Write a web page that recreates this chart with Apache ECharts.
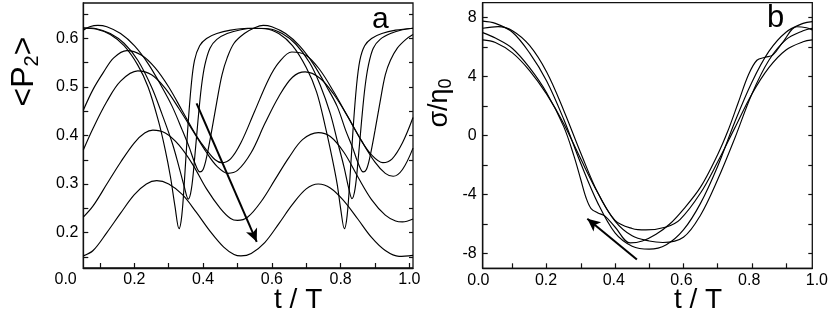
<!DOCTYPE html>
<html><head><meta charset="utf-8">
<script src="https://cdn.jsdelivr.net/npm/echarts@6/dist/echarts.min.js"></script>
<style>html,body{margin:0;padding:0;background:#fff}#c{width:831px;height:320px}</style>
</head><body><div id="c"></div>
<script>
// ---------- Panel a data: <P2> vs t/T ----------
const aCurveA = [[0.0515,0.152],[0.08,0.163],[0.12,0.200],[0.16,0.240],[0.20,0.278],[0.235,0.300],[0.265,0.307],[0.30,0.300],[0.34,0.278],[0.38,0.242],[0.42,0.203],[0.46,0.170],[0.49,0.155],[0.51,0.152],[0.54,0.157],[0.58,0.180],[0.62,0.218],[0.66,0.258],[0.70,0.290],[0.735,0.300],[0.77,0.292],[0.81,0.265],[0.85,0.228],[0.89,0.190],[0.93,0.163],[0.97,0.151],[1.0106,0.153]];
const aCurveB = [[0.0515,0.232],[0.08,0.255],[0.12,0.300],[0.16,0.345],[0.20,0.385],[0.23,0.405],[0.254,0.411],[0.29,0.405],[0.33,0.380],[0.37,0.340],[0.41,0.290],[0.45,0.250],[0.48,0.229],[0.50,0.225],[0.53,0.232],[0.57,0.265],[0.61,0.310],[0.65,0.355],[0.69,0.392],[0.735,0.406],[0.77,0.398],[0.81,0.365],[0.85,0.315],[0.89,0.268],[0.93,0.236],[0.96,0.224],[0.98,0.222],[1.0106,0.228]];
const aCurveC = [[0.0515,0.370],[0.08,0.415],[0.12,0.470],[0.16,0.512],[0.21,0.533],[0.25,0.525],[0.29,0.497],[0.33,0.455],[0.37,0.410],[0.41,0.365],[0.44,0.337],[0.472,0.322],[0.50,0.328],[0.54,0.365],[0.58,0.425],[0.62,0.480],[0.66,0.520],[0.697,0.531],[0.74,0.518],[0.78,0.485],[0.82,0.440],[0.86,0.390],[0.90,0.345],[0.93,0.322],[0.953,0.316],[0.98,0.330],[1.0106,0.374]];
const aCurveD = [[0.0515,0.452],[0.08,0.495],[0.11,0.530],[0.14,0.560],[0.178,0.575],[0.22,0.566],[0.26,0.540],[0.30,0.500],[0.34,0.450],[0.38,0.400],[0.41,0.370],[0.435,0.350],[0.454,0.344],[0.48,0.352],[0.51,0.385],[0.55,0.450],[0.59,0.515],[0.62,0.550],[0.658,0.572],[0.70,0.565],[0.74,0.535],[0.78,0.490],[0.82,0.440],[0.86,0.390],[0.89,0.360],[0.923,0.344],[0.95,0.352],[0.98,0.385],[1.0106,0.437]];
const aCurveE = [[0.0515,0.621],[0.09,0.619],[0.13,0.608],[0.17,0.585],[0.21,0.545],[0.24,0.500],[0.27,0.430],[0.29,0.370],[0.305,0.315],[0.318,0.255],[0.33,0.208],[0.338,0.235],[0.346,0.310],[0.355,0.410],[0.365,0.500],[0.375,0.555],[0.39,0.585],[0.41,0.600],[0.44,0.610],[0.48,0.617],[0.53,0.621],[0.58,0.620],[0.62,0.610],[0.66,0.585],[0.70,0.540],[0.73,0.490],[0.755,0.420],[0.775,0.355],[0.79,0.300],[0.80,0.250],[0.811,0.208],[0.819,0.235],[0.827,0.310],[0.836,0.410],[0.846,0.500],[0.856,0.555],[0.87,0.585],[0.89,0.600],[0.92,0.610],[0.96,0.617],[1.0106,0.621]];
const aCurveF = [[0.0515,0.622],[0.09,0.620],[0.13,0.610],[0.17,0.590],[0.21,0.555],[0.25,0.500],[0.28,0.445],[0.31,0.385],[0.33,0.335],[0.345,0.295],[0.357,0.269],[0.366,0.290],[0.375,0.350],[0.385,0.430],[0.395,0.500],[0.405,0.545],[0.42,0.580],[0.44,0.598],[0.47,0.610],[0.51,0.618],[0.55,0.621],[0.59,0.620],[0.63,0.610],[0.67,0.588],[0.71,0.550],[0.74,0.505],[0.77,0.445],[0.79,0.390],[0.81,0.335],[0.823,0.293],[0.833,0.270],[0.842,0.290],[0.851,0.350],[0.861,0.430],[0.871,0.500],[0.881,0.545],[0.895,0.580],[0.915,0.598],[0.945,0.610],[0.98,0.618],[1.0106,0.621]];
const aCurveG = [[0.0515,0.617],[0.07,0.624],[0.094,0.627],[0.12,0.624],[0.16,0.610],[0.20,0.585],[0.24,0.548],[0.28,0.500],[0.31,0.460],[0.34,0.410],[0.36,0.375],[0.375,0.345],[0.391,0.325],[0.40,0.330],[0.41,0.355],[0.425,0.410],[0.44,0.470],[0.455,0.525],[0.47,0.560],[0.49,0.590],[0.52,0.610],[0.55,0.622],[0.575,0.627],[0.60,0.624],[0.64,0.610],[0.68,0.585],[0.72,0.548],[0.76,0.500],[0.79,0.460],[0.815,0.410],[0.835,0.375],[0.85,0.345],[0.866,0.325],[0.875,0.330],[0.885,0.355],[0.90,0.410],[0.915,0.470],[0.93,0.525],[0.945,0.555],[0.965,0.580],[0.99,0.598],[1.0106,0.608]];
const aArrow = [[0.381,0.466],[0.556,0.181]];
const aXLabels = [0, 0.2, 0.4, 0.6, 0.8, 1.0];
const aXTicks = [0.1, 0.2, 0.3, 0.4, 0.5, 0.6, 0.7, 0.8, 0.9, 1.0];
const aYLabels = [0.2, 0.3, 0.4, 0.5, 0.6];
const aYTicks = [0.15, 0.2, 0.25, 0.3, 0.35, 0.4, 0.45, 0.5, 0.55, 0.6, 0.65];

// ---------- Panel b data: sigma/eta0 vs t/T ----------
const bCurveY = [[0.013,7.75],[0.05,7.6],[0.1,7.0],[0.15,5.6],[0.2,3.7],[0.25,1.1],[0.3,-1.9],[0.35,-4.6],[0.4,-6.6],[0.45,-7.5],[0.5,-7.7],[0.55,-7.4],[0.6,-6.4],[0.65,-4.6],[0.7,-2.1],[0.75,0.9],[0.8,3.6],[0.85,5.7],[0.9,7.0],[0.95,7.6],[0.977,7.72]];
const bCurveFlat = [[0.013,6.48],[0.05,6.3],[0.1,5.6],[0.15,4.4],[0.2,2.8],[0.25,0.8],[0.3,-1.6],[0.35,-3.9],[0.4,-5.75],[0.45,-6.3],[0.49,-6.4],[0.55,-6.2],[0.59,-5.7],[0.65,-3.9],[0.7,-1.8],[0.75,0.5],[0.8,2.8],[0.85,4.6],[0.9,5.8],[0.95,6.35],[0.977,6.48]];
const bCurveZ = [[0.013,7.27],[0.058,7.38],[0.1,7.1],[0.15,6.1],[0.2,4.3],[0.25,1.7],[0.3,-1.2],[0.35,-3.9],[0.4,-5.8],[0.45,-6.8],[0.5,-7.15],[0.54,-7.25],[0.6,-6.9],[0.65,-5.4],[0.7,-3.0],[0.75,-0.2],[0.8,2.8],[0.85,5.1],[0.9,6.5],[0.95,7.1],[0.977,7.27]];
const bCurveX = [[0.013,6.97],[0.05,6.6],[0.1,5.9],[0.15,4.6],[0.2,2.9],[0.25,0.6],[0.28,-1.4],[0.30,-3.0],[0.315,-4.2],[0.33,-4.95],[0.35,-5.25],[0.37,-5.45],[0.40,-6.2],[0.444,-7.28],[0.48,-7.15],[0.52,-6.7],[0.56,-6.0],[0.6,-5.0],[0.65,-3.5],[0.7,-1.3],[0.73,0.3],[0.76,2.2],[0.79,4.1],[0.815,5.1],[0.84,5.3],[0.862,5.46],[0.89,6.3],[0.932,7.37],[0.96,7.3],[0.977,7.15]];
const bArrow = [[0.464,-8.41],[0.319,-5.64]];
const bXLabels = [0, 0.2, 0.4, 0.6, 0.8, 1.0];
const bXTicks = [0.1, 0.2, 0.3, 0.4, 0.5, 0.6, 0.7, 0.8, 0.9];
const bYLabels = [-8, -4, 0, 4, 8];
const bYTicks = [-8, -6, -4, -2, 0, 2, 4, 6, 8];

const FONT = '"Liberation Sans", Arial, sans-serif';
const INK = '#111';
const tickStyle = {color: INK, width: 1.2};

function curve(data, xi, yi) {
  return {type: 'line', data: data, xAxisIndex: xi, yAxisIndex: yi, smooth: 0.35,
    symbol: 'none', clip: true, silent: true,
    lineStyle: {color: '#000', width: 1.15}};
}
function arrow(pts, xi, yi) {
  return {type: 'line', data: [], xAxisIndex: xi, yAxisIndex: yi, silent: true,
    markLine: {silent: true, animation: false, symbol: ['none', 'arrow'], symbolSize: [9, 13],
      label: {show: false}, lineStyle: {color: '#000', width: 2, type: 'solid'},
      data: [[{coord: pts[0]}, {coord: pts[1]}]]}};
}
const hiddenY = (g) => ({gridIndex: g, type: 'value', min: 0, max: 1, show: false});

const option = {
  animation: false,
  grid: [
    {left: 83.3, top: 3, width: 329.7, height: 265, show: true, borderColor: INK, borderWidth: 1.3},
    {left: 65.6, top: 3, width: 347.4, height: 265},
    {left: 482.7, top: 2.7, width: 329.6, height: 265.6, show: true, borderColor: INK, borderWidth: 1.3},
    {left: 478.4, top: 2.7, width: 341.7, height: 265.6}
  ],
  xAxis: [
    {gridIndex: 0, type: 'value', min: 0.0515, max: 1.0106,
      axisLine: {show: true, onZero: false, lineStyle: {color: INK, width: 1.3}},
      axisTick: {inside: true, length: 5, customValues: aXTicks, lineStyle: tickStyle},
      axisLabel: {show: false}, splitLine: {show: false},
      name: 't / T', nameLocation: 'middle', nameGap: 18,
      nameTextStyle: {fontFamily: FONT, fontSize: 28, color: '#000', padding: [0, 0, 0, 100]}},
    {gridIndex: 1, type: 'value', min: 0, max: 1.0106,
      axisLine: {show: false, onZero: false}, axisTick: {show: false}, splitLine: {show: false},
      axisLabel: {customValues: aXLabels, margin: 4, fontFamily: FONT, fontSize: 16, color: '#000',
        formatter: v => v.toFixed(1)}},
    {gridIndex: 2, type: 'value', min: 0.013, max: 0.977,
      axisLine: {show: true, onZero: false, lineStyle: {color: INK, width: 1.3}},
      axisTick: {inside: true, length: 5, customValues: bXTicks, lineStyle: tickStyle},
      axisLabel: {show: false}, splitLine: {show: false},
      name: 't / T', nameLocation: 'middle', nameGap: 18,
      nameTextStyle: {fontFamily: FONT, fontSize: 28, color: '#000', padding: [0, 0, 0, 101]}},
    {gridIndex: 3, type: 'value', min: 0, max: 1,
      axisLine: {show: false, onZero: false}, axisTick: {show: false}, splitLine: {show: false},
      axisLabel: {customValues: bXLabels, margin: 4, fontFamily: FONT, fontSize: 16, color: '#000',
        formatter: v => v.toFixed(1)}}
  ],
  yAxis: [
    {gridIndex: 0, type: 'value', min: 0.127, max: 0.673, position: 'left',
      axisLine: {show: true, onZero: false, lineStyle: {color: INK, width: 1.3}},
      axisTick: {inside: true, length: 5, customValues: aYTicks, lineStyle: tickStyle},
      axisLabel: {customValues: aYLabels, margin: 5, fontFamily: FONT, fontSize: 16, color: '#000',
        formatter: v => v.toFixed(1)},
      splitLine: {show: false},
      name: '{m|<P}{s|2}{m|>}', nameLocation: 'middle', nameRotate: 90, nameGap: 41,
      nameTextStyle: {fontFamily: FONT, fontSize: 32, color: '#000', padding: [0, 0, 0, 128],
        rich: {m: {fontFamily: FONT, fontSize: 32, color: '#000', lineHeight: 36},
               s: {fontFamily: FONT, fontSize: 20, color: '#000', lineHeight: 21, verticalAlign: 'bottom'}}}},
    {gridIndex: 0, type: 'value', min: 0.127, max: 0.673, position: 'right',
      axisLine: {show: false, onZero: false},
      axisTick: {inside: true, length: 4, customValues: aYTicks, lineStyle: tickStyle},
      axisLabel: {show: false}, splitLine: {show: false}},
    hiddenY(1),
    {gridIndex: 2, type: 'value', min: -9, max: 9, position: 'left',
      axisLine: {show: true, onZero: false, lineStyle: {color: INK, width: 1.3}},
      axisTick: {inside: true, length: 5, customValues: bYTicks, lineStyle: tickStyle},
      axisLabel: {customValues: bYLabels, margin: 6, fontFamily: FONT, fontSize: 16, color: '#000'},
      splitLine: {show: false},
      name: '{m|σ/η}{s|0}', nameLocation: 'middle', nameRotate: 90, nameGap: 28,
      nameTextStyle: {fontFamily: FONT, fontSize: 27, color: '#000', padding: [0, 0, 0, 65],
        rich: {m: {fontFamily: FONT, fontSize: 27, color: '#000', lineHeight: 31},
               s: {fontFamily: FONT, fontSize: 18, color: '#000', lineHeight: 19, verticalAlign: 'bottom'}}}},
    {gridIndex: 2, type: 'value', min: -9, max: 9, position: 'right',
      axisLine: {show: false, onZero: false},
      axisTick: {inside: true, length: 4, customValues: bYTicks, lineStyle: tickStyle},
      axisLabel: {show: false}, splitLine: {show: false}},
    hiddenY(3)
  ],
  graphic: [
    {type: 'text', left: 372, top: 5, style: {text: 'a', font: '30px ' + FONT, fill: '#000'}},
    {type: 'text', left: 767, top: 3, style: {text: 'b', font: '31px ' + FONT, fill: '#000'}}
  ],
  series: [
    curve(aCurveA, 0, 0), curve(aCurveB, 0, 0), curve(aCurveC, 0, 0), curve(aCurveD, 0, 0),
    curve(aCurveE, 0, 0), curve(aCurveF, 0, 0), curve(aCurveG, 0, 0),
    arrow(aArrow, 0, 0),
    curve(bCurveY, 2, 3), curve(bCurveFlat, 2, 3), curve(bCurveZ, 2, 3), curve(bCurveX, 2, 3),
    arrow(bArrow, 2, 3)
  ]
};
const chart = echarts.init(document.getElementById('c'), null, {renderer: 'canvas'});
chart.setOption(option);
</script></body></html>
